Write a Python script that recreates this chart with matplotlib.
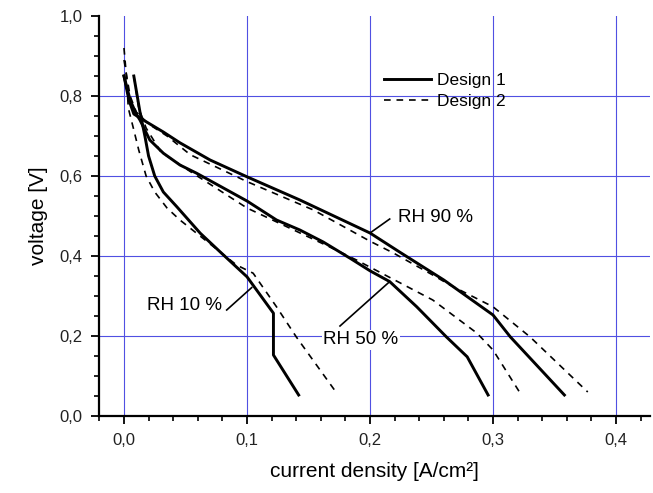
import matplotlib
matplotlib.use('Agg')
import matplotlib.pyplot as plt
from matplotlib.ticker import MultipleLocator, FuncFormatter

plt.rcParams['font.family'] = ['Liberation Sans', 'DejaVu Sans']

# Design 1 (solid)
rh90_d1_x = [0.0, 0.004, 0.008, 0.0157, 0.032, 0.0455, 0.07, 0.1, 0.143, 0.2, 0.224, 0.26, 0.3, 0.314, 0.358]
rh90_d1_y = [0.85, 0.79, 0.755, 0.74, 0.71, 0.683, 0.64, 0.598, 0.54, 0.4575, 0.41, 0.34, 0.2525, 0.198, 0.0525]
rh50_d1_x = [0.0, 0.005, 0.01, 0.013, 0.021, 0.032, 0.0455, 0.059, 0.1, 0.124, 0.143, 0.162, 0.184, 0.2, 0.216, 0.238, 0.262, 0.279, 0.296]
rh50_d1_y = [0.85, 0.79, 0.755, 0.74, 0.69, 0.657, 0.6275, 0.607, 0.5375, 0.49, 0.465, 0.435, 0.394, 0.363, 0.336, 0.273, 0.198, 0.148, 0.0525]
rh10_d1_x = [0.008, 0.013, 0.017, 0.02, 0.025, 0.032, 0.043, 0.062, 0.08, 0.1, 0.1215, 0.1215, 0.142]
rh10_d1_y = [0.85, 0.76, 0.70, 0.65, 0.60, 0.56, 0.523, 0.457, 0.405, 0.348, 0.257, 0.1525, 0.0525]

# Design 2 (dashed)
rh90_d2_x = [0.0, 0.005, 0.01, 0.02, 0.035, 0.054, 0.1, 0.154, 0.2, 0.219, 0.251, 0.265, 0.3, 0.33, 0.377]
rh90_d2_y = [0.89, 0.80, 0.76, 0.73, 0.70, 0.653, 0.586, 0.515, 0.437, 0.4075, 0.3525, 0.3275, 0.273, 0.198, 0.06]
rh50_d2_x = [0.008, 0.012, 0.018, 0.03, 0.054, 0.1, 0.167, 0.189, 0.197, 0.22, 0.251, 0.287, 0.3, 0.322]
rh50_d2_y = [0.85, 0.77, 0.72, 0.66, 0.611, 0.52, 0.423, 0.39, 0.377, 0.34, 0.29, 0.207, 0.165, 0.0575]
rh10_d2_x = [0.0, 0.002, 0.0035, 0.0076, 0.012, 0.018, 0.025, 0.035, 0.0455, 0.0915, 0.105, 0.124, 0.14, 0.173]
rh10_d2_y = [0.92, 0.85, 0.77, 0.72, 0.665, 0.60, 0.56, 0.52, 0.49, 0.3775, 0.357, 0.273, 0.198, 0.057]

labels = ['RH 90 %', 'RH 50 %', 'RH 10 %']
label_pos = [(0.2228, 0.495), (0.162, 0.19), (0.0187, 0.2775)]
arrow_from = [(0.216, 0.4925), (0.1756, 0.225), (0.0835, 0.265)]
arrow_to = [(0.2, 0.4575), (0.216, 0.336), (0.1038, 0.321)]

fig = plt.figure(figsize=(6.53, 4.93), dpi=100)
ax = fig.add_axes([99 / 653, 1 - 416 / 493, 551 / 653, 400 / 493])

grid_col = '#5050e2'
for gx in [0.0, 0.1, 0.2, 0.3, 0.4]:
    ax.axvline(gx, color=grid_col, lw=0.8, zorder=1)
for gy in [0.2, 0.4, 0.6, 0.8]:
    ax.axhline(gy, color=grid_col, lw=0.8, zorder=1)

solid = dict(color='black', lw=2.1, solid_joinstyle='round', zorder=3)
dash = dict(color='black', lw=1.2, dashes=(4, 3.5), zorder=3)
ax.plot(rh90_d1_x, rh90_d1_y, label='Design 1', **solid)
ax.plot(rh50_d1_x, rh50_d1_y, **solid)
ax.plot(rh10_d1_x, rh10_d1_y, **solid)
ax.plot(rh90_d2_x, rh90_d2_y, label='Design 2', **dash)
ax.plot(rh50_d2_x, rh50_d2_y, **dash)
ax.plot(rh10_d2_x, rh10_d2_y, **dash)

for lab, pos, a, b in zip(labels, label_pos, arrow_from, arrow_to):
    ax.plot([a[0], b[0]], [a[1], b[1]], color='black', lw=1.2, zorder=4)
    ax.text(pos[0], pos[1], lab, fontsize=13.5, ha='left', va='center', zorder=5,
            bbox=dict(facecolor='white', edgecolor='none', pad=1) if lab == 'RH 50 %' else None)

ax.set_xlim(-0.0203, 0.4276)
ax.set_ylim(0.0, 1.0)
ax.xaxis.set_major_locator(MultipleLocator(0.1))
ax.xaxis.set_minor_locator(MultipleLocator(0.02))
ax.yaxis.set_major_locator(MultipleLocator(0.2))
ax.yaxis.set_minor_locator(MultipleLocator(0.05))
fmt = FuncFormatter(lambda v, p: ('%.1f' % v).replace('.', ','))
ax.xaxis.set_major_formatter(fmt)
ax.yaxis.set_major_formatter(fmt)

for s in ['top', 'right']:
    ax.spines[s].set_visible(False)
for s in ['left', 'bottom']:
    ax.spines[s].set_linewidth(1.6)
    ax.spines[s].set_zorder(6)
ax.tick_params(which='major', direction='out', length=6, width=1.3, labelsize=12, colors='black',
               labelcolor='#222222', pad=6)
ax.tick_params(which='minor', direction='out', length=3.5, width=1.2)

ax.set_xlabel('current density [A/cm²]', fontsize=15, labelpad=10)
ax.set_ylabel('voltage [V]', fontsize=15, labelpad=8)

ax.legend(loc='upper left', bbox_to_anchor=(0.518, 0.857), frameon=False, fontsize=12.5,
          handlelength=2.7, handletextpad=0.3, labelspacing=0.33, borderpad=0, borderaxespad=0)

fig.savefig('out.png', dpi=100)
